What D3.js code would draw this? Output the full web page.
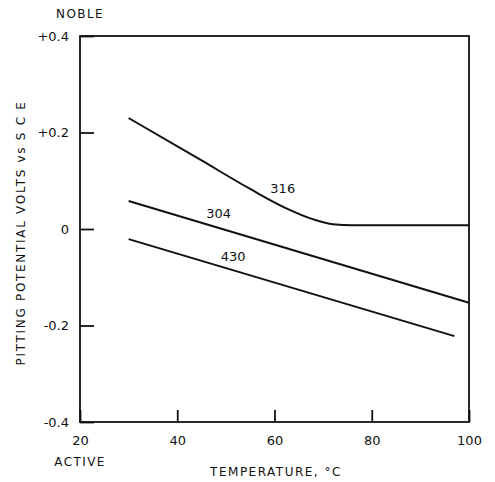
<!DOCTYPE html>
<html>
<head>
<meta charset="utf-8">
<script src="https://cdn.jsdelivr.net/npm/d3@7"></script>
<style>
  html, body { margin: 0; padding: 0; background: #fff; }
  text { font-family: "DejaVu Sans", sans-serif; fill: #111; }
</style>
</head>
<body>
<svg id="chart" width="495" height="482"></svg>
<script>
// Pitting potential vs temperature for three stainless grades
const xTicks = [20, 40, 60, 80, 100];
const yTicks = [0.4, 0.2, 0, -0.2, -0.4];
const yTickLabels = ["+0.4", "+0.2", "0", "-0.2", "-0.4"];

const temp316 = [30, 45, 55, 62, 68, 72, 76, 100];
const pot316  = [0.230, 0.142, 0.083, 0.045, 0.020, 0.010, 0.008, 0.008];

const temp304 = [30, 100];
const pot304  = [0.058, -0.153];

const temp430 = [30, 97];
const pot430  = [-0.021, -0.222];

const seriesNames = ["316", "304", "430"];
const labelTemps  = [61.7, 48.5, 51.5];
const labelPots   = [0.075, 0.022, -0.066];

const svg = d3.select("#chart");
const plotLeft = 80, plotRight = 469, plotTop = 36, plotBottom = 422;

const x = d3.scaleLinear().domain([20, 100]).range([plotLeft, plotRight]);
const y = d3.scaleLinear().domain([-0.4, 0.4]).range([plotBottom, plotTop]);

// frame
svg.append("rect")
  .attr("x", plotLeft).attr("y", plotTop)
  .attr("width", plotRight - plotLeft).attr("height", plotBottom - plotTop)
  .attr("fill", "none").attr("stroke", "#111").attr("stroke-width", 1.8);

// y axis: inward ticks
const yAxis = d3.axisLeft(y)
  .tickValues(yTicks)
  .tickSize(-14)
  .tickPadding(11)
  .tickFormat((d, i) => yTickLabels[i]);
const gy = svg.append("g").attr("transform", `translate(${plotLeft},0)`).call(yAxis);
gy.select(".domain").remove();
gy.selectAll("line").attr("stroke", "#111").attr("stroke-width", 1.8);
gy.selectAll("text").style("font-size", "13px").attr("fill", "#111");

// x axis: inward ticks
const xAxis = d3.axisBottom(x)
  .tickValues(xTicks)
  .tickSize(-12)
  .tickPadding(14)
  .tickFormat(d3.format("d"));
const gx = svg.append("g").attr("transform", `translate(0,${plotBottom})`).call(xAxis);
gx.select(".domain").remove();
gx.selectAll("line").attr("stroke", "#111").attr("stroke-width", 1.8);
gx.selectAll("text").style("font-size", "13px").attr("fill", "#111");

// curves
const line = d3.line()
  .x(d => x(d[0]))
  .y(d => y(d[1]))
  .curve(d3.curveMonotoneX);

const series = [
  d3.zip(temp316, pot316),
  d3.zip(temp304, pot304),
  d3.zip(temp430, pot430)
];

svg.selectAll("path.curve")
  .data(series)
  .join("path")
  .attr("class", "curve")
  .attr("d", line)
  .attr("fill", "none")
  .attr("stroke", "#111")
  .attr("stroke-width", 2);

// curve labels
svg.selectAll("text.curve-label")
  .data(seriesNames)
  .join("text")
  .attr("class", "curve-label")
  .attr("x", (d, i) => x(labelTemps[i]))
  .attr("y", (d, i) => y(labelPots[i]))
  .attr("text-anchor", "middle")
  .style("font-size", "13px")
  .text(d => d);

// annotations
svg.append("text")
  .attr("x", 80).attr("y", 18)
  .attr("text-anchor", "middle")
  .style("font-size", "12px")
  .style("letter-spacing", "1.4px")
  .text("NOBLE");

svg.append("text")
  .attr("x", 80).attr("y", 466)
  .attr("text-anchor", "middle")
  .style("font-size", "12px")
  .style("letter-spacing", "1.4px")
  .text("ACTIVE");

svg.append("text")
  .attr("x", 276).attr("y", 476)
  .attr("text-anchor", "middle")
  .style("font-size", "12px")
  .style("letter-spacing", "1.5px")
  .text("TEMPERATURE, \u00B0C");

svg.append("text")
  .attr("transform", "translate(25,233) rotate(-90)")
  .attr("text-anchor", "middle")
  .style("font-size", "12px")
  .style("letter-spacing", "1.7px")
  .text("PITTING POTENTIAL  VOLTS vs S C E");
</script>
</body>
</html>
